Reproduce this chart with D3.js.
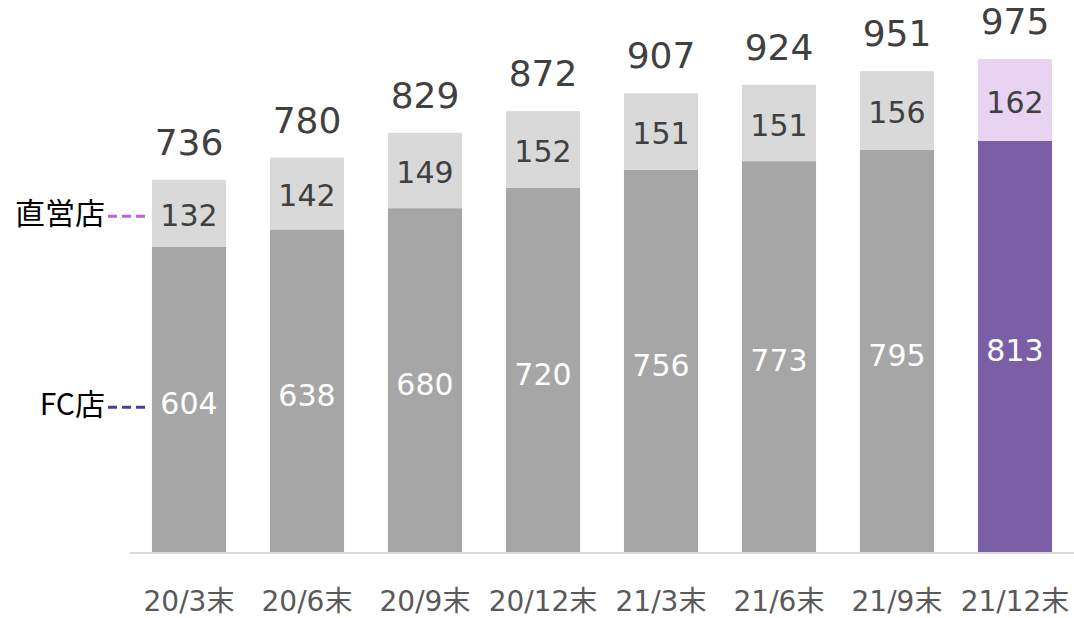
<!DOCTYPE html>
<html><head><meta charset="utf-8">
<script src="https://cdn.jsdelivr.net/npm/d3@7"></script>
<style>
body{margin:0;background:#fff;}
svg{display:block;}
</style></head>
<body>
<svg id="chart" width="1074" height="618"></svg>
<script>
const categories = ["20/3末","20/6末","20/9末","20/12末","21/3末","21/6末","21/9末","21/12末"];
const fcValues = [604,638,680,720,756,773,795,813];
const directValues = [132,142,149,152,151,151,156,162];
const totals = [736,780,829,872,907,924,951,975];
const seriesNames = ["FC店","直営店"];

const svg = d3.select("#chart");
const baseY = 552;
const numFont = "'DejaVu Sans', Verdana, sans-serif";
const jpFont = "'Noto Sans CJK JP', sans-serif";

const x = d3.scaleBand().domain(categories).range([130, 1074]).paddingInner(0.372).paddingOuter(0.186);
const y = d3.scaleLinear().domain([0, 975]).range([baseY, 59]);

const hl = categories.length - 1;
const fcColor = (i) => i === hl ? "#7b5fa6" : "#a6a6a6";
const dcColor = (i) => i === hl ? "#e8d3f3" : "#d9d9d9";

const g = svg.append("g");

g.selectAll("rect.fc").data(fcValues).join("rect")
  .attr("class","fc")
  .attr("x",(d,i)=>x(categories[i]))
  .attr("width",x.bandwidth())
  .attr("y",d=>y(d))
  .attr("height",d=>y(0)-y(d))
  .attr("fill",(d,i)=>fcColor(i));

g.selectAll("rect.dc").data(directValues).join("rect")
  .attr("class","dc")
  .attr("x",(d,i)=>x(categories[i]))
  .attr("width",x.bandwidth())
  .attr("y",(d,i)=>y(fcValues[i]+d))
  .attr("height",(d,i)=>y(fcValues[i])-y(fcValues[i]+d))
  .attr("fill",(d,i)=>dcColor(i));

svg.append("line").attr("x1",130).attr("x2",1074).attr("y1",baseY+1).attr("y2",baseY+1)
  .attr("stroke","#d9d9d9").attr("stroke-width",2);

g.selectAll("text.fcl").data(fcValues).join("text")
  .attr("x",(d,i)=>x(categories[i])+x.bandwidth()/2)
  .attr("y",d=>(y(d)+y(0))/2+4)
  .attr("dy","0.36em")
  .attr("text-anchor","middle")
  .attr("font-family",numFont).attr("font-size",30)
  .attr("fill","#ffffff")
  .text(d=>d);

g.selectAll("text.dcl").data(directValues).join("text")
  .attr("x",(d,i)=>x(categories[i])+x.bandwidth()/2)
  .attr("y",(d,i)=>(y(fcValues[i])+y(fcValues[i]+d))/2+2)
  .attr("dy","0.36em")
  .attr("text-anchor","middle")
  .attr("font-family",numFont).attr("font-size",30)
  .attr("fill","#404040")
  .text(d=>d);

g.selectAll("text.tot").data(totals).join("text")
  .attr("x",(d,i)=>x(categories[i])+x.bandwidth()/2)
  .attr("y",d=>y(d)-25)
  .attr("text-anchor","middle")
  .attr("font-family",numFont).attr("font-size",36)
  .attr("fill","#404040")
  .text(d=>d);

const xAxis = svg.append("g").attr("transform",`translate(0,${baseY})`)
  .call(d3.axisBottom(x).tickSize(0).tickPadding(0));
xAxis.select(".domain").remove();
xAxis.attr("font-size",null).attr("font-family",null);
xAxis.selectAll("text")
  .attr("y",59)
  .attr("dy",0)
  .style("font-family",numFont).style("font-size","28px")
  .attr("fill","#595959");
xAxis.selectAll("text").each(function(d){
  const t = d3.select(this);
  const s = String(d);
  t.text(null);
  t.append("tspan").text(s.slice(0,-1));
  t.append("tspan").style("font-family",jpFont).text(s.slice(-1));
});

const firstX = x(categories[0]);
const legend = [
  {name: seriesNames[1], yv: y(fcValues[0] + directValues[0]/2), color:"#c060dc"},
  {name: seriesNames[0], yv: y(fcValues[0]/2)+5, color:"#4e3d96"}
];
legend.forEach(l=>{
  svg.append("text").attr("x",105).attr("y",l.yv).attr("dy","0.36em")
    .attr("text-anchor","end").attr("font-family",jpFont).attr("font-size",30)
    .attr("fill","#000").text(l.name);
  svg.append("line").attr("x1",108).attr("x2",firstX-2).attr("y1",l.yv+3).attr("y2",l.yv+3)
    .attr("stroke",l.color).attr("stroke-width",3).attr("stroke-dasharray","9,5");
});
</script>
</body></html>
